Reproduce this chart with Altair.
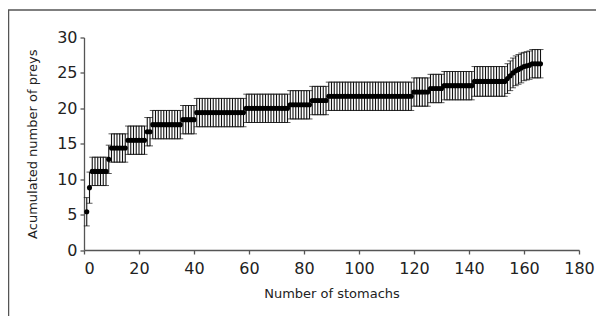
import altair as alt
import pandas as pd

# Mean accumulated number of preys, read as runs of equal value along the x axis
run_lengths = [1, 1, 6, 1, 6, 7, 2, 11, 5, 18, 16, 8, 6, 31, 6, 5, 11, 12,
               1, 1, 1, 1, 1, 1, 1, 1, 1, 4]
mean_levels = [5.4, 8.8, 11.1, 12.8, 14.4, 15.5, 16.7, 17.7, 18.4, 19.4, 20.0,
               20.5, 21.1, 21.7, 22.3, 22.8, 23.2, 23.8,
               24.2, 24.6, 25.0, 25.3, 25.5, 25.7, 25.9, 26.0, 26.1, 26.3]
sd_levels = [2.0, 2.2, 2.0, 2.0, 2.0, 2.0, 2.0, 2.0, 2.0, 2.0, 2.0,
             2.0, 2.0, 2.0, 2.0, 2.0, 2.0, 2.1,
             2.1, 2.1, 2.1, 2.1, 2.1, 2.1, 2.0, 2.0, 2.0, 2.0]

x_ticks = list(range(0, 181, 20))
y_ticks = list(range(0, 31, 5))

rows = []
n = 0
for length, m, s in zip(run_lengths, mean_levels, sd_levels):
    for _ in range(length):
        n += 1
        rows.append({"n": n, "mean": m, "lo": m - s, "hi": m + s})
df = pd.DataFrame(rows)

FONT = "DejaVu Sans"
xscale = alt.Scale(domain=[0, 180], nice=False, zero=False)
yscale = alt.Scale(domain=[0, 30], nice=False)

xaxis = alt.Axis(
    title="Number of stomachs", values=x_ticks, labelFontSize=16, labelOverlap=False,
    labelAlign={"condition": {"test": "datum.value == 0", "value": "left"}, "value": "center"},
    labelPadding=6, titlePadding=11, titleFontSize=13,
)
yaxis = alt.Axis(
    title="Acumulated number of preys", values=y_ticks, labelFontSize=16, labelOverlap=False,
    labelPadding=3, titlePadding=17, titleFontSize=13,
)

X = alt.X("n:Q", scale=xscale, axis=xaxis)

base = alt.Chart(df)
bars = base.mark_rule(color="#111", strokeWidth=1.1).encode(
    x=X,
    y=alt.Y("lo:Q", scale=yscale, axis=yaxis),
    y2="hi:Q",
)
cap_lo = base.mark_tick(orient="horizontal", size=6, thickness=1, color="#111").encode(
    x=X, y=alt.Y("lo:Q", scale=yscale, axis=yaxis)
)
cap_hi = base.mark_tick(orient="horizontal", size=6, thickness=1, color="#111").encode(
    x=X, y=alt.Y("hi:Q", scale=yscale, axis=yaxis)
)
points = base.mark_circle(size=26, color="black", opacity=1).encode(
    x=X, y=alt.Y("mean:Q", scale=yscale, axis=yaxis)
)

frame_df = pd.DataFrame({"k": [0]})
frame_left = alt.Chart(frame_df).mark_rule(color="#555", strokeWidth=1.5).encode(
    x=alt.value(-75.5), y=alt.value(-27.5), y2=alt.value(300)
)
frame_top = alt.Chart(frame_df).mark_rule(color="#555", strokeWidth=1.5).encode(
    x=alt.value(-76), x2=alt.value(600), y=alt.value(-27.5)
)

chart = alt.layer(bars, cap_lo, cap_hi, points, frame_left, frame_top).properties(
    width=495, height=212.5,
    autosize=alt.AutoSizeParams(type="none"),
    padding={"left": 76, "top": 29.5, "right": 17, "bottom": 66},
).configure_view(stroke=None).configure_axis(
    grid=False, domainColor="#555", tickColor="#555", domainWidth=1.3, tickWidth=1.3,
    tickSize=4, labelColor="#222", titleColor="#222", labelFont=FONT, titleFont=FONT,
    titleFontWeight="normal",
)

chart.save("out.html", embed_options={"renderer": "svg", "actions": False})
